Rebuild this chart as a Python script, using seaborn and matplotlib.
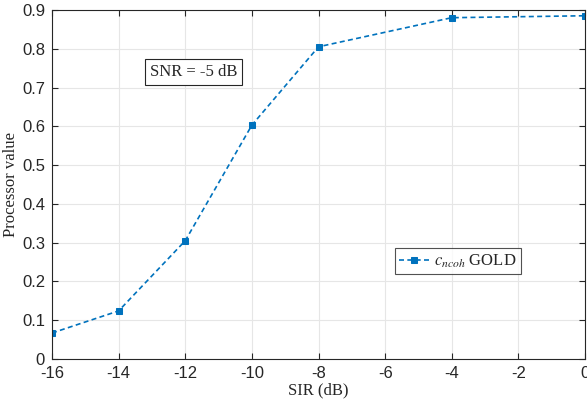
import numpy as np
import pandas as pd
import matplotlib
matplotlib.use("Agg")
import matplotlib.pyplot as plt
import seaborn as sns

# values
sir_db = [-16, -14, -12, -10, -8, -4, 0]
proc_val = [0.067, 0.124, 0.305, 0.603, 0.805, 0.880, 0.885]
x_ticks = [-16, -14, -12, -10, -8, -6, -4, -2, 0]
y_ticks = [0, 0.1, 0.2, 0.3, 0.4, 0.5, 0.6, 0.7, 0.8, 0.9]
y_labels = ["0", "0.1", "0.2", "0.3", "0.4", "0.5", "0.6", "0.7", "0.8", "0.9"]

df = pd.DataFrame({"SIR": sir_db, "value": proc_val})

sns.set_style("ticks")
plt.rcParams["mathtext.fontset"] = "stix"
plt.rcParams["axes.unicode_minus"] = False
plt.rcParams["font.family"] = ["Liberation Sans", "DejaVu Sans"]

fig = plt.figure(figsize=(5.87, 4.04), dpi=100)
ax = fig.add_axes([0.0886, 0.1114, 0.908, 0.864])

blue = "#0072BD"
sns.lineplot(data=df, x="SIR", y="value", ax=ax, color=blue,
             linewidth=1.2, marker="s", markersize=4, markeredgecolor=blue,
             label=r"$c_{ncoh}$ GOLD")
ax.lines[0].set_linestyle((0, (3, 2)))

ax.set_xlim(-16, 0)
ax.set_ylim(0, 0.9)
ax.set_xticks(x_ticks)
ax.set_xticklabels([str(v) for v in x_ticks], family="Liberation Sans", fontsize=12)
ax.set_yticks(y_ticks)
ax.set_yticklabels(y_labels, family="Liberation Sans", fontsize=12)
ax.grid(True, color="#e6e6e6", linewidth=0.8)
ax.set_axisbelow(True)
for s in ax.spines.values():
    s.set_color("#262626")
    s.set_linewidth(0.8)
ax.tick_params(direction="in", top=True, right=True, colors="#262626",
               length=4, width=0.8)
ax.tick_params(axis="x", pad=5)
ax.tick_params(axis="y", pad=5)

ax.set_xlabel("SIR (dB)", family="Liberation Serif", fontsize=12, color="#262626", labelpad=1)
ax.set_ylabel("Processor value", family="Liberation Serif", fontsize=12, color="#262626", labelpad=2)

ax.text(-11.75, 0.74, "SNR = -5 dB", family="Liberation Serif", fontsize=12,
        ha="center", va="center",
        bbox=dict(boxstyle="square,pad=0.3", fc="white", ec="#262626", lw=0.8))

leg = ax.legend(loc="center", bbox_to_anchor=(0.762, 0.28), frameon=True, fancybox=False,
                prop={"family": "Liberation Serif", "size": 12}, handlelength=1.8,
                handletextpad=0.3, borderpad=0.25, borderaxespad=0)
leg.get_frame().set_edgecolor("#262626")
leg.get_frame().set_linewidth(0.8)

fig.savefig("out.png", dpi=100)
